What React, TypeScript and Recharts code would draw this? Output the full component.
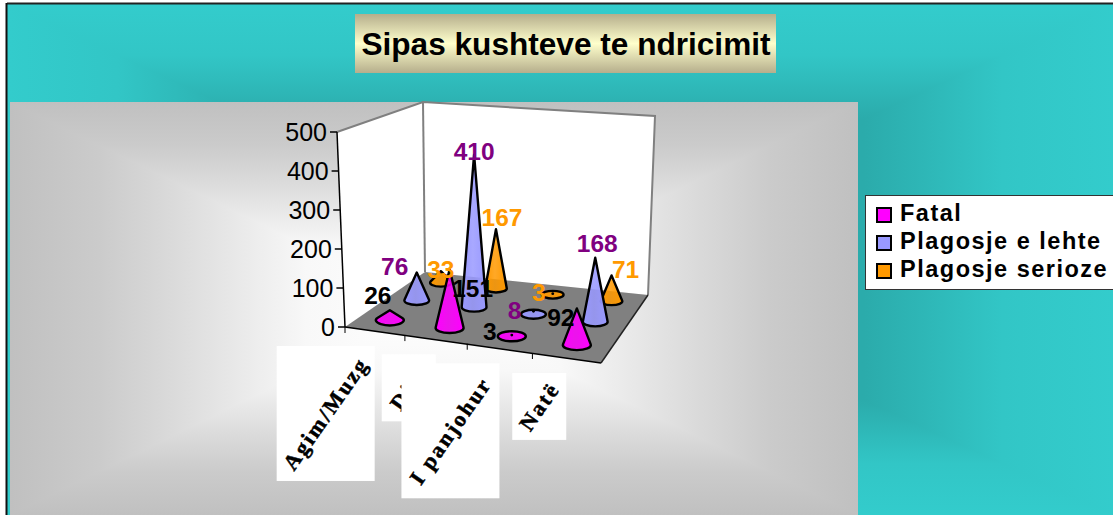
import React from 'react';
import { BarChart, Bar, XAxis, YAxis, Legend, LabelList } from 'recharts';

const categories = ['Agim/Muzg', 'Ditë', 'I panjohur', 'Natë'];
const seriesNames = ['Fatal', 'Plagosje e lehte', 'Plagosje serioze'];
const fatal = [26, 151, 3, 92];
const lehte = [76, 410, 8, 168];
const serioze = [33, 167, 3, 71];
const yTicks = [0, 100, 200, 300, 400, 500];

const chartData = categories.map((name, i) => ({
  name,
  [seriesNames[0]]: fatal[i],
  [seriesNames[1]]: lehte[i],
  [seriesNames[2]]: serioze[i],
}));

const WIDTH = 1113;
const HEIGHT = 515;
const PLOT_HEIGHT = 195;
const FONT = '"Liberation Sans", Arial, sans-serif';

const seriesFill = ['#FF00FF', '#9999FF', '#FF9900'];
const labelFill = ['#000000', '#800080', '#FF9900'];

// floor corners: front-left, front-right, back-right, back-left
const floor = [[345, 327], [601, 363], [648, 295], [425, 272]];
// wall height in px at the same corners, for 0..500
const cornerHeight = [195, 205, 179, 170];
// where each data label sits relative to the cone tip
const labelOffset = [
  [[-12, -15], [23, 19], [-22, -4], [-16, 9]],
  [[-22, -6], [0, -3], [-19, -1], [2, -14]],
  [[0, -2], [6, -12], [-14, -1], [14, -6]],
];
// white boxes behind the rotated category labels
const labelBox = [[98, 135], [54, 67], [98, 135], [54, 67]];

// background fades: distance from the centre (0..1) -> colour
const tealStops: [number, string][] = [[0, '#2AA6A6'], [0.55, '#2BABAB'], [0.8, '#32C6C6'], [1, '#33CCCC']];
const plateStops: [number, string][] = [[0, '#FFFFFF'], [0.3, '#F8F8F8'], [0.43, '#ECECEC'], [0.62, '#DADADA'], [0.79, '#CBCBCB'], [1, '#C0C0C0']];

// perspective map of the unit square onto the floor
const project = (u: number, v: number) => {
  const [[x0, y0], [x1, y1], [x2, y2], [x3, y3]] = floor;
  const dx1 = x1 - x2, dx2 = x3 - x2, sx = x0 - x1 + x2 - x3;
  const dy1 = y1 - y2, dy2 = y3 - y2, sy = y0 - y1 + y2 - y3;
  const den = dx1 * dy2 - dx2 * dy1;
  const g = (sx * dy2 - dx2 * sy) / den;
  const h = (dx1 * sy - sx * dy1) / den;
  const a = x1 - x0 + g * x1, b = x3 - x0 + h * x3;
  const d = y1 - y0 + g * y1, e = y3 - y0 + h * y3;
  const w = g * u + h * v + 1;
  // small bow so the category spacing matches the picture
  return [(a * u + b * v + x0) / w + 13 * u * (1 - u), (d * u + e * v + y0) / w];
};

const coneAt = (i: number, s: number, barHeight: number) => {
  const u = (i + 0.5) / categories.length;
  const v = (s + 0.5) / seriesNames.length;
  const [cx, cy] = project(u, v);
  const front = cornerHeight[0] + (cornerHeight[1] - cornerHeight[0]) * u;
  const back = cornerHeight[3] + (cornerHeight[2] - cornerHeight[3]) * u;
  const scale = (front + (back - front) * v) / PLOT_HEIGHT;
  return { cx: cx + 0.5, cy, h: Math.abs(barHeight) * scale };
};

const makeCone = (s: number) => (props: any) => {
  const { cx, cy, h } = coneAt(props.index, s, props.height);
  const a = 14 - s * 1.6;
  const b = a * 0.36;
  const stroke = { stroke: '#000', strokeWidth: 2.4, strokeLinejoin: 'round' as const };
  if (h <= b) {
    return (
      <g>
        <ellipse cx={cx} cy={cy} rx={a} ry={b} fill={`url(#cone${s})`} {...stroke} />
        <circle cx={cx} cy={cy - h} r={1.4} fill="#000" />
      </g>
    );
  }
  const ty = (b * b) / h;
  const tx = a * Math.sqrt(1 - (b * b) / (h * h));
  const d = `M${cx} ${cy - h}L${cx + tx} ${cy - ty}A${a} ${b} 0 1 1 ${cx - tx} ${cy - ty}Z`;
  return <path d={d} fill={`url(#cone${s})`} {...stroke} />;
};

const makeLabel = (s: number) => (props: any) => {
  const height = props.viewBox?.height ?? props.height;
  const { cx, cy, h } = coneAt(props.index, s, height);
  const [dx, dy] = labelOffset[s][props.index];
  return (
    <text
      x={cx + dx}
      y={cy - h + dy}
      textAnchor="middle"
      dominantBaseline="central"
      fontFamily={FONT}
      fontSize={24.5}
      fontWeight="bold"
      fill={labelFill[s]}
    >
      {props.value}
    </text>
  );
};

const YTick = (props: any) => {
  const value = props.payload.value;
  const f = value / 500;
  const ax = floor[0][0] - 8 * f;
  const ay = props.y;
  return (
    <g>
      <line x1={ax - 7} y1={ay} x2={ax} y2={ay} stroke="#000" strokeWidth={1.5} />
      <text
        x={ax - 10}
        y={ay}
        textAnchor="end"
        dominantBaseline="central"
        fontFamily={FONT}
        fontSize={25}
        fill="#000"
      >
        {value}
      </text>
    </g>
  );
};

const XTick = (props: any) => {
  const i = props.index;
  const [mx, my] = project((i + 0.5) / categories.length, 0);
  const [w, h] = labelBox[i];
  const left = mx - w;
  const top = my + 15;
  const [tx, ty] = project(i / categories.length, 0);
  return (
    <g>
      <rect x={left} y={top} width={w} height={h} fill="#fff" />
      <text
        x={left + w / 2}
        y={top + h / 2}
        textAnchor="middle"
        dominantBaseline="central"
        fontFamily='"Liberation Serif", serif'
        fontSize={22}
        fontWeight="bold"
        letterSpacing={2.3}
        stroke="#000"
        strokeWidth={0.5}
        fill="#000"
        transform={`rotate(-55 ${left + w / 2} ${top + h / 2})`}
      >
        {categories[i]}
      </text>
      <line x1={tx} y1={ty} x2={tx} y2={ty + 6} stroke="#000" strokeWidth={1} />
    </g>
  );
};

const LegendBox = (props: any) => {
  const items = [...(props.payload ?? [])].sort(
    (p: any, q: any) => seriesNames.indexOf(p.value) - seriesNames.indexOf(q.value),
  );
  return (
    <div
      style={{
        width: 260,
        height: 95,
        boxSizing: 'border-box',
        background: '#fff',
        border: '1px solid #333',
        padding: '3px 0 0 10px',
        fontFamily: FONT,
        fontSize: 23.5,
        fontWeight: 'bold',
        letterSpacing: 1.5,
        color: '#000',
      }}
    >
      {items.map((item: any) => (
        <div key={item.value} style={{ display: 'flex', alignItems: 'center', height: 28, lineHeight: '28px' }}>
          <span
            style={{
              width: 16,
              height: 16,
              boxSizing: 'border-box',
              background: item.color,
              border: '2px solid #000',
              marginRight: 8,
              marginTop: 3,
            }}
          />
          {item.value}
        </div>
      ))}
    </div>
  );
};

// rectangular fade: horizontal rect, then top and bottom triangles over it
const RectFade = ({ id, x, y, w, h, stops }: any) => {
  const mirrored = [
    ...[...stops].reverse().map(([n, c]: any) => [0.5 - n / 2, c]),
    ...stops.slice(1).map(([n, c]: any) => [0.5 + n / 2, c]),
  ];
  const grad = (gid: string, x2: number, y2: number) => (
    <linearGradient id={gid} gradientUnits="userSpaceOnUse" x1={x} y1={y} x2={x2} y2={y2}>
      {mirrored.map(([o, c]: any) => (
        <stop key={o} offset={o} stopColor={c} />
      ))}
    </linearGradient>
  );
  const cx = x + w / 2;
  const cy = y + h / 2;
  return (
    <g>
      <defs>
        {grad(`${id}H`, x + w, y)}
        {grad(`${id}V`, x, y + h)}
      </defs>
      <rect x={x} y={y} width={w} height={h} fill={`url(#${id}H)`} />
      <polygon points={`${x},${y} ${x + w},${y} ${cx},${cy}`} fill={`url(#${id}V)`} />
      <polygon points={`${x},${y + h} ${x + w},${y + h} ${cx},${cy}`} fill={`url(#${id}V)`} />
    </g>
  );
};

const Backdrop = () => {
  const [fl, fr, br, bl] = floor;
  const leftTop = [337, 132];
  const backLeftTop = [423, 102];
  const backRightTop = [655, 116];
  const pts = (list: number[][]) => list.map((p) => p.join(',')).join(' ');
  return (
    <g>
      <defs>
        <linearGradient id="titleFill" x1="0" y1="0" x2="0" y2="1">
          <stop offset="0" stopColor="#B5AE8C" />
          <stop offset="0.5" stopColor="#FFFFCC" />
          <stop offset="1" stopColor="#B5AE8C" />
        </linearGradient>
        {seriesFill.map((c, s) => (
          <linearGradient key={c} id={`cone${s}`} x1="0" y1="0" x2="1" y2="0">
            <stop offset="0" stopColor={c} />
            <stop offset="0.45" stopColor={c} stopOpacity={0.85} />
            <stop offset="1" stopColor={c} />
          </linearGradient>
        ))}
      </defs>
      <rect x={0} y={0} width={WIDTH} height={HEIGHT} fill="#fff" />
      <RectFade id="teal" x={7} y={4} w={WIDTH - 7} h={HEIGHT - 4} stops={tealStops} />
      <line x1={7} y1={3.5} x2={WIDTH} y2={3.5} stroke="#222" strokeWidth={2} />
      <line x1={6.5} y1={3} x2={6.5} y2={HEIGHT} stroke="#111" strokeWidth={2} />
      <RectFade id="plate" x={10} y={102} w={848} h={413} stops={plateStops} />
      <rect x={355} y={14} width={421} height={59} fill="url(#titleFill)" />
      <text
        x={566}
        y={44}
        textAnchor="middle"
        dominantBaseline="central"
        fontFamily={FONT}
        fontSize={31.6}
        fontWeight="bold"
        fill="#000"
      >
        Sipas kushteve te ndricimit
      </text>
      <polygon points={pts([leftTop, backLeftTop, bl, fl])} fill="#fff" />
      <polygon points={pts([backLeftTop, backRightTop, br, bl])} fill="#fff" />
      <polygon points={pts([fl, fr, br, bl])} fill="#808080" />
      <polyline points={pts([leftTop, backLeftTop, backRightTop, br])} fill="none" stroke="#808080" strokeWidth={2} />
      <line x1={bl[0]} y1={bl[1]} x2={backLeftTop[0]} y2={backLeftTop[1]} stroke="#808080" strokeWidth={2} />
      <line x1={leftTop[0]} y1={leftTop[1]} x2={fl[0]} y2={fl[1]} stroke="#000" strokeWidth={1.5} />
      <line x1={fl[0]} y1={fl[1]} x2={fr[0]} y2={fr[1]} stroke="#000" strokeWidth={1.5} />
      <line x1={fr[0]} y1={fr[1]} x2={br[0]} y2={br[1]} stroke="#222" strokeWidth={1.5} />
    </g>
  );
};

export default function App() {
  return (
    <div style={{ position: 'absolute', left: 0, top: 0, width: WIDTH, height: HEIGHT, overflow: 'hidden' }}>
      <BarChart
        width={WIDTH}
        height={HEIGHT}
        data={chartData}
        margin={{ top: 132, right: 512, bottom: 158, left: 285 }}
      >
        <Backdrop />
        <XAxis dataKey="name" height={30} interval={0} axisLine={false} tickLine={false} tick={<XTick />} />
        <YAxis
          width={60}
          domain={[0, 500]}
          ticks={yTicks}
          axisLine={false}
          tickLine={false}
          tick={<YTick />}
        />
        <Legend
          layout="vertical"
          align="center"
          verticalAlign="middle"
          content={<LegendBox />}
          wrapperStyle={{ left: 865, top: 195, width: 260, margin: 0 }}
        />
        {[2, 1, 0].map((s) => (
          <Bar
            key={seriesNames[s]}
            dataKey={seriesNames[s]}
            name={seriesNames[s]}
            fill={seriesFill[s]}
            isAnimationActive={false}
            shape={makeCone(s)}
          >
            <LabelList dataKey={seriesNames[s]} content={makeLabel(s)} />
          </Bar>
        ))}
      </BarChart>
    </div>
  );
}
